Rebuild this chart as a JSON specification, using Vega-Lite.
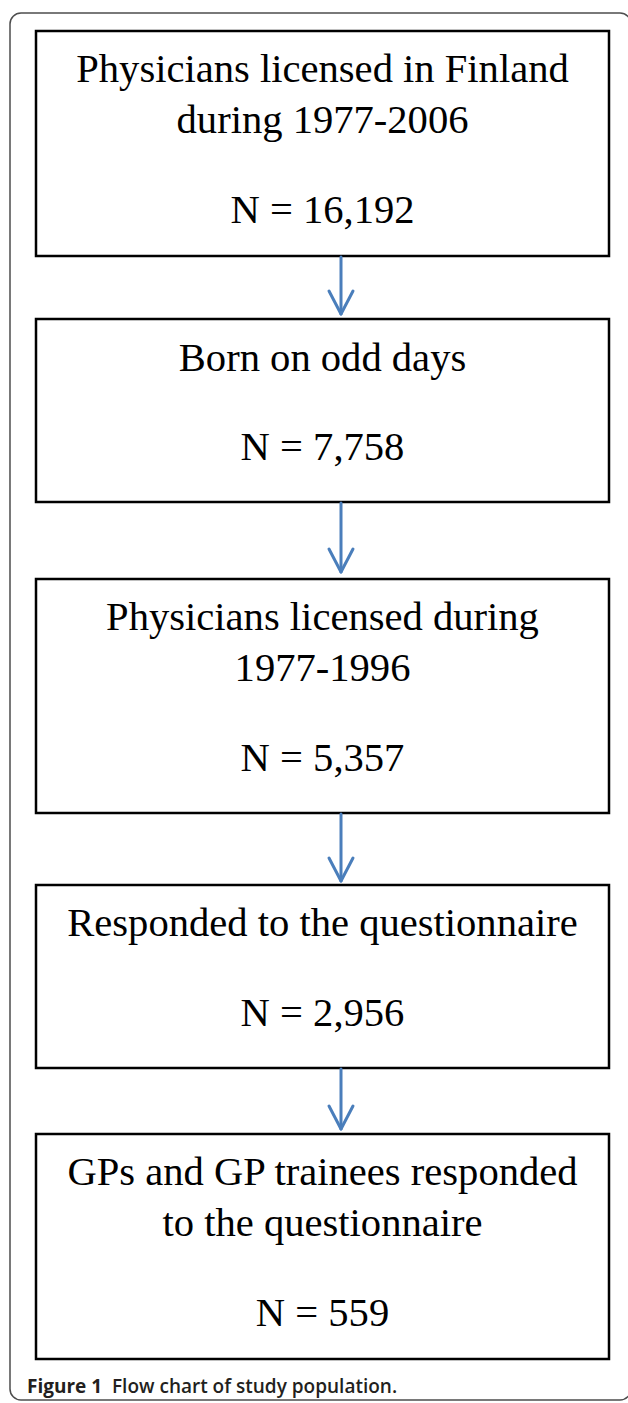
{
  "$schema": "https://vega.github.io/schema/vega-lite/v6.json",
  "width": 628,
  "height": 1403,
  "autosize": {"type": "fit", "contains": "padding"},
  "padding": 0,
  "background": "white",
  "view": {"stroke": null},
  "datasets": {
    "frame": [{"x": 10, "x2": 631, "y": 13, "y2": 1400}],
    "boxes": [
      {"step": "1", "x": 36, "x2": 609, "y": 31, "y2": 256},
      {"step": "2", "x": 36, "x2": 609, "y": 319, "y2": 502},
      {"step": "3", "x": 36, "x2": 609, "y": 579, "y2": 813},
      {"step": "4", "x": 36, "x2": 609, "y": 885, "y2": 1068},
      {"step": "5", "x": 36, "x2": 609, "y": 1134, "y2": 1359}
    ],
    "texts": [
      {"label": "Physicians licensed in Finland", "x": 322.5, "y": 82},
      {"label": "during 1977-2006", "x": 322.5, "y": 133},
      {"label": "N = 16,192", "x": 322.5, "y": 223},
      {"label": "Born on odd days", "x": 322.5, "y": 371},
      {"label": "N = 7,758", "x": 322.5, "y": 460},
      {"label": "Physicians licensed during", "x": 322.5, "y": 630},
      {"label": "1977-1996", "x": 322.5, "y": 681},
      {"label": "N = 5,357", "x": 322.5, "y": 771},
      {"label": "Responded to the questionnaire", "x": 322.5, "y": 936},
      {"label": "N = 2,956", "x": 322.5, "y": 1026},
      {"label": "GPs and GP trainees responded", "x": 322.5, "y": 1185},
      {"label": "to the questionnaire", "x": 322.5, "y": 1236},
      {"label": "N = 559", "x": 322.5, "y": 1326}
    ],
    "segs": [
      {"x": 341, "y": 257, "x2": 341, "y2": 313},
      {"x": 329, "y": 291, "x2": 341, "y2": 314},
      {"x": 353, "y": 291, "x2": 341, "y2": 314},
      {"x": 341, "y": 503, "x2": 341, "y2": 571},
      {"x": 329, "y": 549, "x2": 341, "y2": 572},
      {"x": 353, "y": 549, "x2": 341, "y2": 572},
      {"x": 341, "y": 814, "x2": 341, "y2": 880},
      {"x": 329, "y": 858, "x2": 341, "y2": 881},
      {"x": 353, "y": 858, "x2": 341, "y2": 881},
      {"x": 341, "y": 1069, "x2": 341, "y2": 1128},
      {"x": 329, "y": 1106, "x2": 341, "y2": 1129},
      {"x": 353, "y": 1106, "x2": 341, "y2": 1129}
    ],
    "cap1": [{"label": "Figure 1", "x": 27, "y": 1393}],
    "cap2": [{"label": "Flow chart of study population.", "x": 112, "y": 1393}]
  },
  "layer": [
    {
      "data": {"name": "frame"},
      "mark": {"type": "rect", "fill": null, "stroke": "#4d4d4d", "strokeWidth": 1.5, "cornerRadius": 11, "clip": true},
      "encoding": {
        "x": {"field": "x", "type": "quantitative", "scale": {"domain": [0, 628], "nice": false, "zero": false}, "axis": null},
        "x2": {"field": "x2"},
        "y": {"field": "y", "type": "quantitative", "scale": {"domain": [0, 1403], "nice": false, "zero": false, "reverse": true}, "axis": null},
        "y2": {"field": "y2"}
      }
    },
    {
      "data": {"name": "boxes"},
      "mark": {"type": "rect", "fill": "white", "stroke": "black", "strokeWidth": 2.5},
      "encoding": {
        "x": {"field": "x", "type": "quantitative", "scale": {"domain": [0, 628], "nice": false, "zero": false}, "axis": null},
        "x2": {"field": "x2"},
        "y": {"field": "y", "type": "quantitative", "scale": {"domain": [0, 1403], "nice": false, "zero": false, "reverse": true}, "axis": null},
        "y2": {"field": "y2"}
      }
    },
    {
      "data": {"name": "segs"},
      "mark": {"type": "rule", "color": "#4a7ebb", "strokeWidth": 3, "strokeCap": "round"},
      "encoding": {
        "x": {"field": "x", "type": "quantitative", "scale": {"domain": [0, 628], "nice": false, "zero": false}, "axis": null},
        "x2": {"field": "x2"},
        "y": {"field": "y", "type": "quantitative", "scale": {"domain": [0, 1403], "nice": false, "zero": false, "reverse": true}, "axis": null},
        "y2": {"field": "y2"}
      }
    },
    {
      "data": {"name": "texts"},
      "mark": {"type": "text", "font": "Liberation Serif", "fontSize": 40.6, "color": "black", "align": "center", "baseline": "alphabetic"},
      "encoding": {
        "x": {"field": "x", "type": "quantitative", "scale": {"domain": [0, 628], "nice": false, "zero": false}, "axis": null},
        "y": {"field": "y", "type": "quantitative", "scale": {"domain": [0, 1403], "nice": false, "zero": false, "reverse": true}, "axis": null},
        "text": {"field": "label"}
      }
    },
    {
      "data": {"name": "cap1"},
      "mark": {"type": "text", "font": "Open Sans", "fontSize": 19, "fontWeight": "bold", "color": "#231f20", "align": "left", "baseline": "alphabetic"},
      "encoding": {
        "x": {"field": "x", "type": "quantitative", "scale": {"domain": [0, 628], "nice": false, "zero": false}, "axis": null},
        "y": {"field": "y", "type": "quantitative", "scale": {"domain": [0, 1403], "nice": false, "zero": false, "reverse": true}, "axis": null},
        "text": {"field": "label"}
      }
    },
    {
      "data": {"name": "cap2"},
      "mark": {"type": "text", "font": "Open Sans", "fontSize": 19, "fontWeight": 600, "color": "#231f20", "align": "left", "baseline": "alphabetic"},
      "encoding": {
        "x": {"field": "x", "type": "quantitative", "scale": {"domain": [0, 628], "nice": false, "zero": false}, "axis": null},
        "y": {"field": "y", "type": "quantitative", "scale": {"domain": [0, 1403], "nice": false, "zero": false, "reverse": true}, "axis": null},
        "text": {"field": "label"}
      }
    }
  ]
}
